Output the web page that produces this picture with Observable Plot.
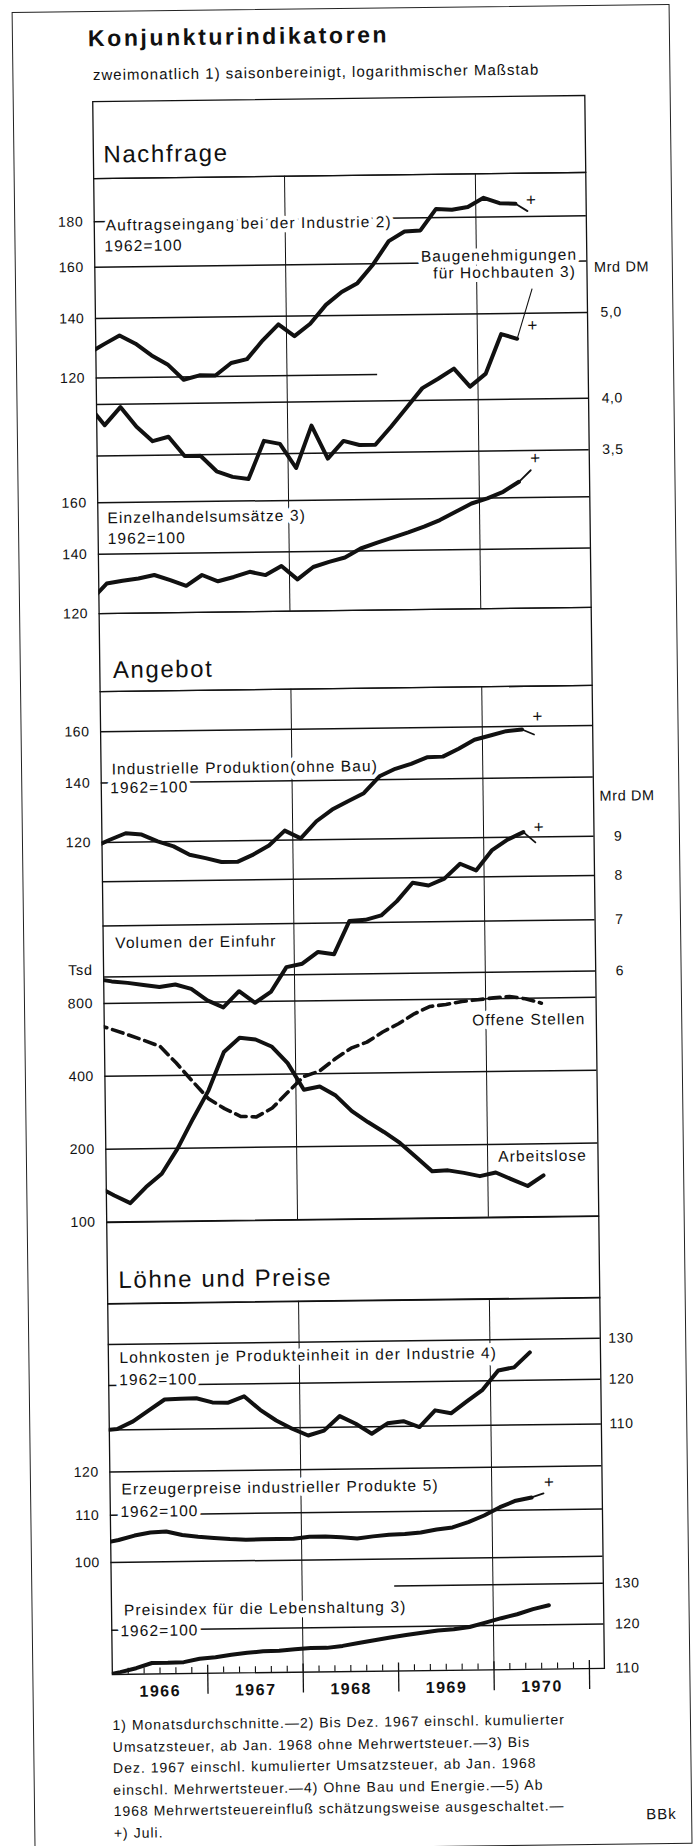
<!DOCTYPE html>
<html>
<head>
<meta charset="utf-8">
<script src="https://cdn.jsdelivr.net/npm/d3@7"></script>
<script src="https://cdn.jsdelivr.net/npm/@observablehq/plot@0.6"></script>
<style>
  html, body { margin: 0; padding: 0; background: #fff; }
  #page { position: relative; width: 695px; height: 1846px; overflow: hidden; background: #fff; }
  #rot { position: absolute; left: 0; top: 0; width: 695px; height: 1846px;
         transform: rotate(-0.715deg); transform-origin: 347.5px 923px;
         font-family: "Liberation Sans", Arial, Helvetica, sans-serif; color: #111; }
  #border { position: absolute; left: 23px; top: 8px; width: 658px; height: 1840px;
            border: 1.5px solid #222; box-sizing: border-box; }
  .t { position: absolute; white-space: nowrap; line-height: 1; }
  #title { left: 99px; top: 24px; font-size: 23px; font-weight: bold; letter-spacing: 2.6px; }
  #subtitle { left: 103.5px; top: 64px; font-size: 15px; letter-spacing: 1px; }
  #notes { left: 102.5px; top: 1712px; font-size: 14px; letter-spacing: 1px; line-height: 21.5px; }
  #bbk { left: 635px; top: 1810px; font-size: 15px; letter-spacing: 1px; }
</style>
</head>
<body>
<div id="page"><div id="rot">
  <div id="border"></div>
  <div class="t" id="title">Konjunkturindikatoren</div>
  <div class="t" id="subtitle">zweimonatlich 1) saisonbereinigt, logarithmischer Maßstab</div>
  <div class="t" id="notes">1) Monatsdurchschnitte.—2) Bis Dez. 1967 einschl. kumulierter<br>Umsatzsteuer, ab Jan. 1968 ohne Mehrwertsteuer.—3) Bis<br>Dez. 1967 einschl. kumulierter Umsatzsteuer, ab Jan. 1968<br>einschl. Mehrwertsteuer.—4) Ohne Bau und Energie.—5) Ab<br>1968 Mehrwertsteuereinfluß schätzungsweise ausgeschaltet.—<br>+) Juli.</div>
  <div class="t" id="bbk">BBk</div>
</div></div>
<script>
// ================= DATA =================
// bimonthly values (seasonally adjusted); first value = Nov/Dec 1965, then Jan/Feb 1966 ... May/Jun 1970
const auftrag = [127.8, 130.9, 133.9, 131.0, 127.0, 124.0, 119.1, 120.4, 120.3, 124.2, 125.4, 131.6, 137.1, 132.9, 137.2, 144.0, 148.8, 152.2, 159.7, 169.6, 173.8, 174.2, 184.1, 183.6, 184.8, 189.2, 186.5, 186.1];
const auftragJuli = 182.5;
const bau = [3.99, 3.79, 3.97, 3.77, 3.63, 3.67, 3.49, 3.49, 3.35, 3.30, 3.28, 3.62, 3.59, 3.37, 3.76, 3.45, 3.61, 3.57, 3.57, 3.74, 3.93, 4.13, 4.23, 4.34, 4.14, 4.28, 4.74, 4.68];
const einzelhandel = [124.3, 129.7, 130.6, 131.3, 132.4, 130.6, 128.6, 132.2, 130.0, 131.4, 133.1, 131.9, 135.0, 130.3, 134.5, 136.2, 137.7, 140.9, 142.9, 144.8, 146.7, 148.8, 151.3, 154.5, 157.8, 159.8, 162.5, 166.7];
const einzelhandelJuli = 171.7;
const produktion = [118.6, 120.8, 122.8, 122.3, 120.1, 118.5, 115.9, 114.8, 113.6, 113.6, 115.7, 118.4, 123.0, 120.5, 125.9, 129.7, 132.5, 135.2, 141.2, 143.9, 145.7, 148.1, 148.3, 151.3, 154.8, 156.4, 158.1, 158.7];
const produktionJuli = 156.6;
const einfuhr = [5.97, 5.92, 5.89, 5.85, 5.81, 5.85, 5.77, 5.57, 5.45, 5.72, 5.52, 5.70, 6.14, 6.20, 6.42, 6.37, 7.04, 7.06, 7.15, 7.46, 7.88, 7.81, 7.97, 8.33, 8.16, 8.66, 8.94, 9.14];
const einfuhrJuli = 8.86;
// Tsd; these run one period further (Jul/Aug 1970)
const arbeitslose = [139.6, 128.6, 119.4, 138.8, 157.2, 199, 264, 345, 497, 568, 558, 521, 444, 344, 354, 324, 279, 251, 228, 205, 179, 156, 157, 153, 148, 153, 143, 134, 148];
const offeneStellen = [656, 624, 592, 560, 528, 450, 378, 319, 290, 269, 267, 290, 337, 390, 410, 460, 508, 537, 590, 637, 699, 748, 761, 782, 793, 806, 815, 796, 762];
const lohnkosten = [109.9, 110.2, 111.8, 114.2, 116.6, 116.7, 116.8, 115.8, 115.7, 117.1, 114.0, 111.6, 109.8, 108.3, 109.3, 112.4, 110.7, 108.5, 110.7, 111.1, 109.8, 113.4, 112.7, 115.3, 117.9, 122.4, 123.1, 126.7];
const erzeugerpreise = [104.0, 104.6, 105.5, 106.1, 106.3, 105.5, 105.1, 104.8, 104.5, 104.3, 104.4, 104.4, 104.4, 104.8, 104.8, 104.6, 104.3, 104.7, 105.0, 105.1, 105.4, 106.0, 106.4, 107.5, 108.9, 110.7, 112.1, 112.8];
const erzeugerpreiseJuli = 113.7;
const preisindex = [109.8, 110.5, 111.3, 112.4, 112.4, 112.5, 113.2, 113.5, 114.0, 114.4, 114.7, 114.8, 115.1, 115.3, 115.3, 115.7, 116.3, 116.9, 117.5, 118.0, 118.5, 119.0, 119.2, 119.7, 120.7, 121.7, 122.6, 123.8, 124.7];

// tick labels
const auftragTicks = [120, 140, 160, 180];
const bauTicks = [3.5, 4.0, 5.0];
const einzelTicks = [120, 140, 160];
const prodTicks = [120, 140, 160];
const einfuhrTicks = [6, 7, 8, 9];
const tsdTicks = [100, 200, 400, 800];
const lohnTicks = [110, 120, 130];
const erzTicks = [100, 110, 120];
const preisTicks = [110, 120, 130];
const years = [1966, 1967, 1968, 1969, 1970];
const sectionTitles = ["Nachfrage", "Angebot", "Löhne und Preise"];

// ================= LAYOUT =================
const W = 695;
const LEFT = 102.5, RIGHT = 594.6, PX_PER_YEAR = 95.42;
const xDomain = [1966, 1966 + (RIGHT - LEFT) / PX_PER_YEAR];
const INK = "#111";
const FONT = '"Liberation Sans", Arial, Helvetica, sans-serif';
const biX = i => 1965 + 11 / 12 + i / 6;   // middle of each two-month period
const JULY = 1970 + 6.5 / 12;

const headers = [
  {title: sectionTitles[0], top: 98, bottom: 175, dx: 10, dy: -16},
  {title: sectionTitles[1], top: 610, bottom: 688, dx: 13, dy: -13.5},
  {title: sectionTitles[2], top: 1218.5, bottom: 1300, dx: 11, dy: -16}
];
const panels = [
  {top: 175, bottom: 610},
  {top: 688, bottom: 1218.5},
  {top: 1300, bottom: 1671}
];
const LABEL = 15.5, TICK = 14;
const fmtComma = d => d.toFixed(1).replace(".", ",");

const series = [
  {panel: 0, values: auftrag, july: auftragJuli, cal: {v: 140, px: 315, k: 385},
   axis: {side: "left", ticks: auftragTicks, pad: 11},
   grid: [{v: 180}, {v: 160}, {v: 140}, {v: 120, x2: 1968.95}],
   labels: [{text: "Auftragseingang bei der Industrie 2)", y: 178.2, side: "left", dx: 11.5},
            {text: "1962=100", y: 168.8, side: "left", dx: 10}],
   plus: {dx: 4, dy: -11}},
  {panel: 0, values: bau, cal: {v: 5, px: 315, k: 385},
   axis: {side: "right", ticks: bauTicks, pad: 13, fmt: fmtComma},
   grid: [{v: 4.0}, {v: 3.5}],
   extra: [{text: "Mrd DM", y: 5.62, side: "right", dx: 7}],
   labels: [{text: "Baugenehmigungen", y: 5.81, side: "right", dx: -9.6},
            {text: "für Hochbauten 3)", y: 5.56, side: "right", dx: -11}],
   leader: {x: 1970.58, y: 5.33},
   plusLast: {dx: 16, dy: -13}},
  {panel: 0, values: einzelhandel, july: einzelhandelJuli, cal: {v: 120, px: 610, k: 385},
   axis: {side: "left", ticks: einzelTicks, pad: 11},
   grid: [{v: 160}, {v: 140}],
   labels: [{text: "Einzelhandelsumsätze 3)", y: 153.7, side: "left", dx: 9.5},
            {text: "1962=100", y: 145.6, side: "left", dx: 9.5}],
   plus: {dx: 5, dy: -12}},
  {panel: 1, values: produktion, july: produktionJuli, cal: {v: 140, px: 779.5, k: 385},
   axis: {side: "left", ticks: prodTicks, pad: 11},
   grid: [{v: 160}, {v: 140}, {v: 120}],
   labels: [{text: "Industrielle Produktion(ohne Bau)", y: 145.0, side: "left", dx: 10.5},
            {text: "1962=100", y: 138.1, side: "left", dx: 9}],
   plus: {dx: 4, dy: -18}},
  {panel: 1, values: einfuhr, july: einfuhrJuli, cal: {v: 9, px: 839, k: 331.7},
   axis: {side: "right", ticks: einfuhrTicks, pad: 20},
   grid: [{v: 8}, {v: 7}, {v: 6}],
   extra: [{text: "Mrd DM", y: 10.16, side: "right", dx: 6}],
   labels: [{text: "Volumen der Einfuhr", y: 6.64, side: "left", dx: 12}],
   plus: {dx: 4, dy: -15}},
  {panel: 1, values: arbeitslose, cal: {v: 100, px: 1218.5, k: 105.1},
   axis: {side: "left", ticks: tsdTicks, pad: 11},
   grid: [{v: 800}, {v: 400}, {v: 200}],
   extra: [{text: "Tsd", y: 1099, side: "left", dx: -11}],
   labels: [{text: "Arbeitslose", y: 177.5, side: "right", dx: -11}]},
  {panel: 1, values: offeneStellen, dashed: true, cal: {v: 100, px: 1218.5, k: 105.1},
   grid: [],
   labels: [{text: "Offene Stellen", y: 651, side: "right", dx: -10.8}]},
  {panel: 2, values: lohnkosten, cal: {v: 110, px: 1426.5, k: 512},
   axis: {side: "right", ticks: lohnTicks, pad: 8},
   grid: [{v: 130}, {v: 120}, {v: 110}],
   labels: [{text: "Lohnkosten je Produkteinheit in der Industrie 4)", y: 126.6, side: "left", dx: 11},
            {text: "1962=100", y: 121.2, side: "left", dx: 10.5}]},
  {panel: 2, values: erzeugerpreise, july: erzeugerpreiseJuli, cal: {v: 120, px: 1468.5, k: 496},
   axis: {side: "left", ticks: erzTicks, pad: 11},
   grid: [{v: 120}, {v: 110}, {v: 100}],
   labels: [{text: "Erzeugerpreise industrieller Produkte 5)", y: 115.8, side: "left", dx: 11.5},
            {text: "1962=100", y: 110.65, side: "left", dx: 10}],
   plus: {dx: 6, dy: -11}},
  {panel: 2, values: preisindex, cal: {v: 110, px: 1671, k: 509},
   axis: {side: "right", ticks: preisTicks, pad: 11},
   grid: [{v: 130, x1: 1968.97}, {v: 120}],
   labels: [{text: "Preisindex für die Lebenshaltung 3)", y: 124.7, side: "left", dx: 12.5},
            {text: "1962=100", y: 119.7, side: "left", dx: 8.5}]}
];

// ================= DRAWING =================
const rot = document.getElementById("rot");
function mount(svg, top, spacing) {
  svg.style.position = "absolute";
  svg.style.left = "0px";
  svg.style.top = top + "px";
  svg.style.overflow = "visible";
  svg.style.background = "transparent";
  svg.style.maxWidth = "none";
  svg.style.letterSpacing = spacing || "1px";
  rot.appendChild(svg);
}
function plotIn(box, opts) {
  return Plot.plot(Object.assign({
    width: W, height: box.bottom - box.top,
    marginLeft: LEFT, marginRight: W - RIGHT, marginTop: 0, marginBottom: 0,
    x: {domain: xDomain, axis: null},
    style: {fontFamily: FONT, fontSize: TICK + "px", color: INK, background: "transparent"}
  }, opts));
}
function yOf(s) {
  const p = panels[s.panel], c = s.cal;
  return {type: "log",
    domain: [c.v * Math.exp((c.px - p.bottom) / c.k), c.v * Math.exp((c.px - p.top) / c.k)],
    axis: null};
}
function textMarks(items, size, halo) {
  const out = [];
  for (const L of items) {
    const o = {y: d => d.y, text: d => d.text, frameAnchor: L.side,
               textAnchor: L.dx >= 0 ? "start" : "end", dx: L.dx, fontSize: size};
    if (halo) out.push(Plot.text([L], {...o, fill: "white", stroke: "white", strokeWidth: 8}));
    out.push(Plot.text([L], {...o, fill: INK}));
  }
  return out;
}

const layers = {boxes: [], grid: [], labels: [], data: [], axis: []};

// section header boxes
for (const h of headers) {
  layers.boxes.push([plotIn(h, {marks: [
    Plot.frame({stroke: INK, strokeWidth: 1.3}),
    Plot.text([h.title], {text: d => d, frameAnchor: "bottom-left", textAnchor: "start",
                          dx: h.dx, dy: h.dy, fontSize: 24, fill: INK})
  ]}), h.top, "1.6px"]);
}
// panel frames with year gridlines
for (const p of panels) {
  layers.boxes.push([plotIn(p, {marks: [
    Plot.ruleX([1968, 1970], {stroke: INK, strokeWidth: 1}),
    Plot.frame({stroke: INK, strokeWidth: 1.3})
  ]}), p.top]);
}

for (const s of series) {
  const p = panels[s.panel];
  const rows = s.values.map((v, i) => ({x: biX(i), y: v}));
  // grid lines + tick labels
  const gridMarks = s.grid.map(g => (g.x1 != null || g.x2 != null)
    ? Plot.ruleY([g.v], {x1: g.x1 != null ? g.x1 : xDomain[0], x2: g.x2 != null ? g.x2 : xDomain[1], stroke: INK, strokeWidth: 1.5})
    : Plot.ruleY([g.v], {stroke: INK, strokeWidth: 1.5}));
  if (s.axis) {
    const a = s.axis, fmt = a.fmt || (d => String(d));
    gridMarks.push(Plot.text(a.ticks, {y: d => d, text: fmt, frameAnchor: a.side,
      textAnchor: a.side === "left" ? "end" : "start", dx: a.side === "left" ? -a.pad : a.pad,
      fontSize: TICK, fill: INK}));
  }
  if (s.extra) gridMarks.push(...textMarks(s.extra, TICK + 0.5, false));
  if (gridMarks.length) layers.grid.push([plotIn(p, {y: yOf(s), marks: gridMarks}), p.top, "0.6px"]);
  // series labels
  layers.labels.push([plotIn(p, {y: yOf(s), marks: textMarks(s.labels, LABEL, true)}), p.top, "1.1px"]);
  // data line
  const dm = [Plot.line(rows, {x: "x", y: "y", stroke: INK, strokeWidth: s.dashed ? 3.6 : 4,
    strokeLinejoin: "round", strokeDasharray: s.dashed ? "11,6" : null, clip: true})];
  const last = rows[rows.length - 1];
  if (s.july != null) {
    const jul = {x: JULY, y: s.july};
    dm.push(Plot.line([last, jul], {x: "x", y: "y", stroke: INK, strokeWidth: 1.8}));
    dm.push(Plot.text([jul], {x: "x", y: "y", text: () => "+", dx: s.plus.dx, dy: s.plus.dy, fontSize: 17, fill: INK}));
  }
  if (s.plusLast) {
    dm.push(Plot.text([last], {x: "x", y: "y", text: () => "+", dx: s.plusLast.dx, dy: s.plusLast.dy, fontSize: 17, fill: INK}));
  }
  if (s.leader) {
    dm.push(Plot.link([{a: last, b: s.leader}], {x1: d => d.a.x, y1: d => d.a.y, x2: d => d.b.x, y2: d => d.b.y, stroke: INK, strokeWidth: 1.1}));
  }
  layers.data.push([plotIn(p, {y: yOf(s), marks: dm}), p.top]);
}

// time axis: two-month ticks, year ticks and year labels
const minorTicks = d3.range(1, 30).filter(k => k % 6 !== 0).map(k => 1966 + k / 6);
const yearTicks = years.slice(1).concat([1971]);
layers.axis.push([plotIn({top: 1665, bottom: 1671}, {marks: [Plot.ruleX(minorTicks, {stroke: INK, strokeWidth: 1.1})]}), 1665]);
layers.axis.push([plotIn({top: 1663, bottom: 1692}, {marks: [
  Plot.ruleX(yearTicks, {stroke: INK, strokeWidth: 1.3}),
  Plot.text(years, {x: d => d + 0.5, text: d => String(d), frameAnchor: "bottom", dy: 1.5,
                    fontSize: 16, fontWeight: "bold", fill: INK})
]}), 1663, "1.5px"]);

for (const key of ["boxes", "grid", "labels", "data", "axis"]) {
  for (const [svg, top, sp] of layers[key]) mount(svg, top, sp);
}
</script>
</body>
</html>
